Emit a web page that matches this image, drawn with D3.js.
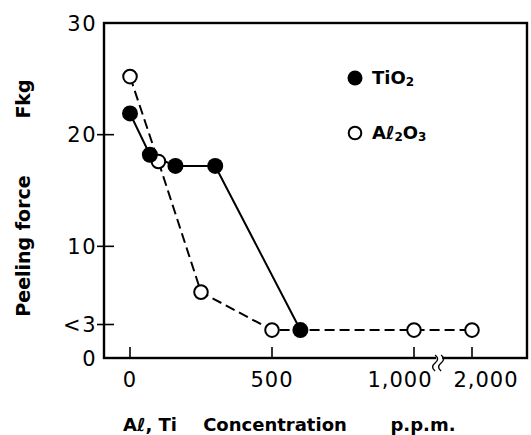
<!DOCTYPE html>
<html>
<head>
<meta charset="utf-8">
<script src="https://cdn.jsdelivr.net/npm/d3@7"></script>
<style>
  body { margin: 0; background: #fff; }
  svg { display: block; }
  text { font-family: "DejaVu Sans", sans-serif; fill: #000; }
</style>
</head>
<body>
<div id="chart"></div>
<script>
// peeling force vs Al / Ti concentration
const tio2X = [0, 70, 160, 300, 600];
const tio2Y = [21.9, 18.2, 17.2, 17.2, 2.5];
const al2o3X = [0, 100, 250, 500, 1000, 2000];
const al2o3Y = [25.2, 17.6, 5.9, 2.5, 2.5, 2.5];
const yTicks = [0, 3, 10, 20, 30];
const yTickLabels = ["0", "<3", "10", "20", "30"];
const xTicks = [0, 500, 1000, 2000];
const xTickLabels = ["0", "500", "1,000", "2,000"];

const width = 531;
const height = 435;
const m = {left: 104, right: 527, top: 23, bottom: 358};

const svg = d3.select("#chart")
  .append("svg")
  .attr("width", width)
  .attr("height", height);

// x has a break between 1,000 and 2,000
const x = d3.scaleLinear()
  .domain([0, 1000, 2000])
  .range([130, 414, 472]);
const y = d3.scaleLinear()
  .domain([0, 30])
  .range([m.bottom, m.top]);

// frame
svg.append("rect")
  .attr("x", m.left).attr("y", m.top)
  .attr("width", m.right - m.left).attr("height", m.bottom - m.top)
  .attr("fill", "none")
  .attr("stroke", "#000")
  .attr("stroke-width", 2.4);

// y ticks
const yg = svg.append("g");
yg.selectAll("line")
  .data(yTicks.filter(d => d > 0 && d < 30))
  .join("line")
    .attr("x1", m.left - 7).attr("x2", m.left + 10)
    .attr("y1", d => y(d)).attr("y2", d => y(d))
    .attr("stroke", "#000").attr("stroke-width", 1.6);
yg.selectAll("text")
  .data(yTicks)
  .join("text")
    .attr("x", m.left - 7)
    .attr("y", d => y(d))
    .attr("dy", "0.36em")
    .attr("text-anchor", "end")
    .attr("font-size", 21)
    .attr("letter-spacing", 1.5)
    .text((d, i) => yTickLabels[i]);

// x ticks
const xLabelShift = {1000: -14, 2000: 14};
const xg = svg.append("g");
xg.selectAll("line")
  .data(xTicks)
  .join("line")
    .attr("x1", d => x(d)).attr("x2", d => x(d))
    .attr("y1", m.bottom).attr("y2", m.bottom - 11)
    .attr("stroke", "#000").attr("stroke-width", 1.6);
xg.selectAll("text")
  .data(xTicks)
  .join("text")
    .attr("x", d => x(d) + (xLabelShift[d] || 0))
    .attr("y", m.bottom + 29)
    .attr("text-anchor", "middle")
    .attr("font-size", 21)
    .attr("letter-spacing", 1)
    .text((d, i) => xTickLabels[i]);

// axis break
const bx = x(1000) + (x(2000) - x(1000)) * 0.45;
svg.append("rect")
  .attr("x", bx - 4).attr("y", m.bottom - 2)
  .attr("width", 6).attr("height", 4)
  .attr("fill", "#fff");
[-3, 3].forEach(o => {
  svg.append("path")
    .attr("d", `M${bx + o - 2},${m.bottom - 3} q5,4 0,8 q-5,4 0,8`)
    .attr("fill", "none")
    .attr("stroke", "#000")
    .attr("stroke-width", 1.4);
});

// lines
const line = d3.line().x(d => x(d[0])).y(d => y(d[1]));
const tio2 = tio2X.map((d, i) => [d, tio2Y[i]]);
const al2o3 = al2o3X.map((d, i) => [d, al2o3Y[i]]);

svg.append("path")
  .attr("d", line(al2o3))
  .attr("fill", "none")
  .attr("stroke", "#000")
  .attr("stroke-width", 2)
  .attr("stroke-dasharray", "10,5");
svg.append("path")
  .attr("d", line(tio2))
  .attr("fill", "none")
  .attr("stroke", "#000")
  .attr("stroke-width", 2);

svg.append("g").selectAll("circle")
  .data(al2o3)
  .join("circle")
    .attr("cx", d => x(d[0])).attr("cy", d => y(d[1]))
    .attr("r", 6.8)
    .attr("fill", "#fff").attr("stroke", "#000").attr("stroke-width", 2);
svg.append("g").selectAll("circle")
  .data(tio2)
  .join("circle")
    .attr("cx", d => x(d[0])).attr("cy", d => y(d[1]))
    .attr("r", 8)
    .attr("fill", "#000");

// legend
const legend = svg.append("g").attr("transform", "translate(355,78)");
legend.append("circle").attr("r", 7.5).attr("fill", "#000");
legend.append("circle").attr("cy", 55).attr("r", 6.3)
  .attr("fill", "#fff").attr("stroke", "#000").attr("stroke-width", 2);
const t1 = legend.append("text").attr("x", 17).attr("dy", "0.36em")
  .attr("font-size", 18).attr("font-weight", "bold");
t1.append("tspan").text("TiO");
t1.append("tspan").attr("font-size", 12).attr("dy", 2).text("2");
const t2 = legend.append("text").attr("x", 17).attr("y", 55).attr("dy", "0.36em")
  .attr("font-size", 18).attr("font-weight", "bold");
t2.append("tspan").text("Aℓ");
t2.append("tspan").attr("font-size", 12).attr("dy", 2).text("2");
t2.append("tspan").attr("dy", -2).text("O");
t2.append("tspan").attr("font-size", 12).attr("dy", 2).text("3");

// axis titles
svg.append("text")
  .attr("transform", "translate(30,246) rotate(-90)")
  .attr("text-anchor", "middle")
  .attr("font-size", 19).attr("font-weight", "bold")
  .text("Peeling  force");
svg.append("text")
  .attr("transform", "translate(30,99) rotate(-90)")
  .attr("text-anchor", "middle")
  .attr("font-size", 19).attr("font-weight", "bold")
  .text("Fkg");

const xt = svg.append("g").attr("font-size", 18).attr("font-weight", "bold");
xt.append("text").attr("x", 150).attr("y", 431).attr("text-anchor", "middle").text("Aℓ, Ti");
xt.append("text").attr("x", 275).attr("y", 431).attr("text-anchor", "middle").text("Concentration");
xt.append("text").attr("x", 423).attr("y", 431).attr("text-anchor", "middle").text("p.p.m.");
</script>
</body>
</html>
